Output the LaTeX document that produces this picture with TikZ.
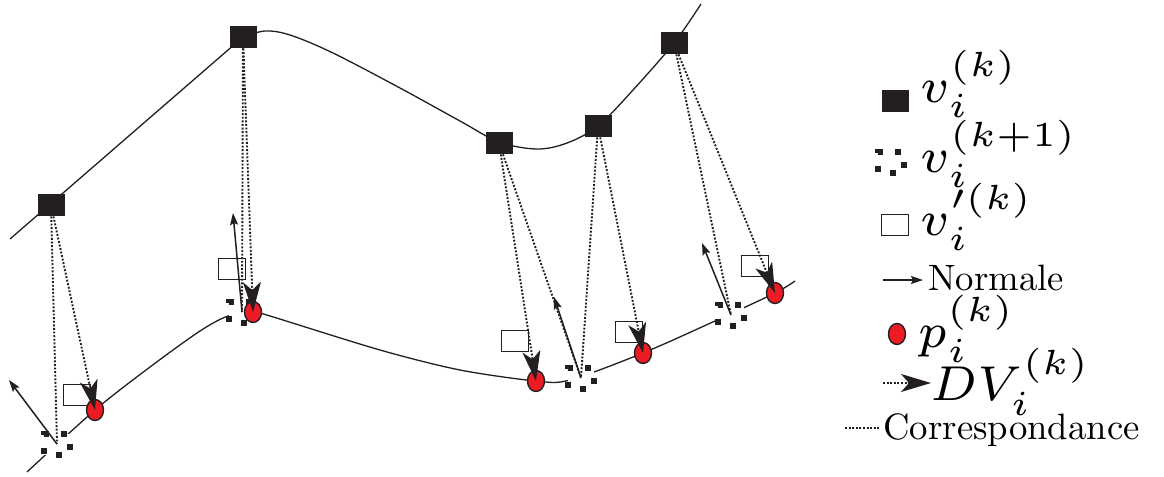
\documentclass[tikz,border=0pt]{standalone}
\usepackage{xcolor}
\usepackage{amsmath}
\usepackage{amssymb}
\usepackage{tikz}
\usetikzlibrary{arrows.meta}
\usetikzlibrary{shapes}
\usetikzlibrary{shapes.geometric}
\definecolor{ink}{HTML}{231F20}
\definecolor{ptred}{HTML}{ED1C24}
\tikzset{>=latex}
\tikzstyle{vold} = [rectangle, fill=ink, draw=none, minimum width=13.5pt, minimum height=11pt, inner sep=0]
\tikzstyle{vnew} = [rectangle, draw=ink, fill=white, line width=3pt, dash pattern=on 3pt off 6.4pt, dash phase=3.4pt, minimum width=13pt, minimum height=10.5pt, inner sep=0]
\tikzstyle{vprim} = [rectangle, draw=ink, line width=0.75pt, minimum width=13.5pt, minimum height=10.5pt, inner sep=0]
\tikzstyle{redpt} = [ellipse, fill=ptred, draw=ink, line width=0.7pt, minimum width=8.5pt, minimum height=10.5pt, inner sep=0]
\tikzstyle{crv} = [draw=ink, line width=0.65pt]
\tikzstyle{cor} = [draw=ink, line width=0.95pt, dash pattern=on 0.95pt off 0.85pt]
\tikzstyle{dv} = [cor, -{Stealth[length=15pt, width=9pt, inset=4pt]}]
\tikzstyle{nrm} = [draw=ink, line width=0.75pt, -{Stealth[length=6pt, width=4pt, inset=1pt]}]
\tikzstyle{lbl} = [anchor=base west, inner sep=0]
\newcommand{\legmath}[1]{\scalebox{3.5}{\fontsize{7}{8}\selectfont$#1$}}
\newcommand{\legtext}[1]{\scalebox{1.835}{#1}}

\begin{document}
\begin{tikzpicture}[x=0.5pt, y=-0.5pt]
\useasboundingbox (0,0) rectangle (1164,477);
\coordinate (p1) at (95,410);
\coordinate (p2) at (253,312);
\coordinate (p3) at (536,381);
\coordinate (p4) at (643,353);
\coordinate (p5) at (775,293);
% surfaces
\draw [crv] (10,239) -- (243,37) plot [smooth, tension=0.55] coordinates {(243,37) (265,31) (290,35) (333,53) (400,88) (460,121) (499,142) (537,149) (567,143) (598,126) (633,90) (674,43) (701,4)};
\draw [crv] plot [smooth, tension=0.5] coordinates {(27,472) (p1) (150,367) (200,331) (228,316) (p2) (270,316) (380,350) (460,370) (p3) (570,380) (p4) (715,321) (p5) (795,281)};
\node [vold] (V1) at (51,205) {};
\node [vold] (V2) at (243,37) {};
\node [vold] (V3) at (499,143) {};
\node [vold] (V4) at (598,126) {};
\node [vold] (V5) at (674,43) {};
\node [vnew] (W1) at (57,444) {};
\node [vnew] (W2) at (242,312) {};
\node [vnew] (W3) at (581,378) {};
\node [vnew] (W4) at (731,315) {};
\node [vprim] (Q1) at (77,395) {};
\node [vprim] (Q2) at (232,269) {};
\node [vprim] (Q3) at (515,341) {};
\node [vprim] (Q4) at (629,332) {};
\node [vprim] (Q5) at (755,266) {};
\node [redpt] (P1) at (p1) {};
\node [redpt] (P2) at (p2) {};
\node [redpt] (P3) at (p3) {};
\node [redpt] (P4) at (p4) {};
\node [redpt] (P5) at (p5) {};
% normals
\coordinate (n1) at (9,380);
\coordinate (n2) at (233,213);
\coordinate (n3) at (554,297);
\coordinate (n4) at (702,243);
\draw [nrm] (W1.center) -- (n1);
\draw [nrm] (W2.center) -- (n2);
\draw [nrm] (W3.center) -- (n3);
\draw [nrm] (W4.center) -- (n4);
% correspondences
\draw [cor] (V1) -- (W1.center);
\draw [cor] (V2) -- (W2.center);
\draw [cor] (V3) -- (W3.center);
\draw [cor] (V4) -- (W3.center);
\draw [cor] (V5) -- (W4.center);
\draw [dv] (V1) -- (P1.center);
\draw [dv] (V2) -- (P2.center);
\draw [dv] (V3) -- (P3.center);
\draw [dv] (V4) -- (P4.center);
\draw [dv] (V5) -- (P5.center);
% legend
\node [vold] (LV) at (895,101) {};
\node [lbl] (TV) at (920,102) {\legmath{v_i^{(k)}}};
\node [vnew] (LW) at (891,162) {};
\node [lbl] (TW) at (920,172) {\legmath{v_i^{(k+1)}}};
\node [vprim] (LQ) at (895,225) {};
\node [lbl] (TQ) at (920,235) {\legmath{v_i^{\prime(k)}}};
\coordinate (LNa) at (883,280);
\coordinate (LNb) at (923,280);
\draw [nrm] (LNa) -- (LNb);
\node [lbl] (TN) at (928,290) {\legtext{Normale}};
\node [redpt] (LP) at (897,334) {};
\node [lbl] (TP) at (918,347) {\legmath{p_i^{(k)}}};
\coordinate (LDa) at (883,383);
\coordinate (LDb) at (931,383);
\draw [dv] (LDa) -- (LDb);
\node [lbl] (TD) at (930,400) {\legmath{DV_i^{(k)}}};
\coordinate (LCa) at (845,428);
\coordinate (LCb) at (880,428);
\draw [cor] (LCa) -- (LCb);
\node [lbl] (TC) at (883,439) {\legtext{Correspondance}};
\end{tikzpicture}
\end{document}
